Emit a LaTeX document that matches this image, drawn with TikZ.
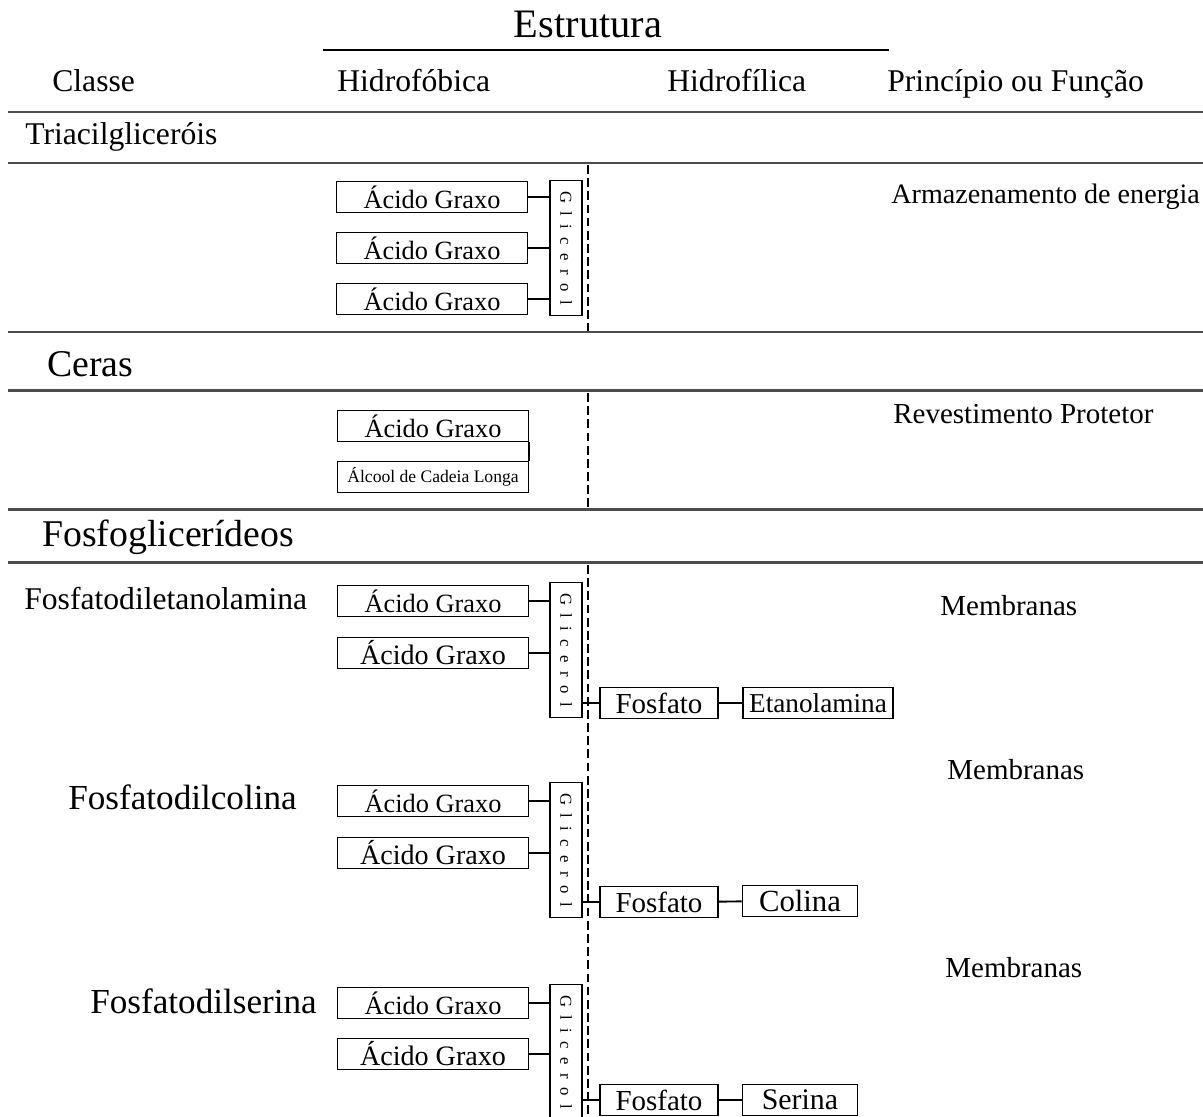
\documentclass[tikz,border=0pt]{standalone}
\usepackage{fontspec}
\setmainfont{Liberation Serif}
\usepackage{graphicx}
\usetikzlibrary{positioning}

\newcommand{\tamanho}[1]{\fontsize{#1}{#1}\selectfont}
\newcommand{\gliceroltxt}{\rotatebox{-90}{G\kern4.8pt l\kern4.8pt i\kern4.8pt c\kern4.8pt e\kern4.8pt r\kern4.8pt o\kern4.8pt l}}

\begin{document}
\begin{tikzpicture}[
    x=0.02cm, y=-0.02cm,
    titulo/.style={inner sep=0pt, font=\tamanho{23}},
    coluna/.style={anchor=base west, inner sep=0pt, font=\tamanho{18}},
    classe/.style={anchor=west, inner sep=0pt, font=\tamanho{18}},
    grupo/.style={anchor=west, inner sep=0pt, font=\tamanho{21.5}},
    funcao/.style={anchor=west, inner sep=0pt, font=\tamanho{16.5}},
    acido/.style={draw, line width=1.1pt, minimum width=3.82cm, minimum height=0.62cm, inner sep=0pt, font=\tamanho{15}},
    glicerol/.style={draw, line width=1.1pt, minimum width=0.64cm, minimum height=2.7cm, inner sep=0pt, font=\tamanho{9.5}},
    polar/.style={draw, line width=1.1pt, minimum height=0.62cm, inner sep=0pt, font=\tamanho{16.5}},
    liga/.style={line width=1.1pt},
    regua/.style={line width=1.7pt, draw=black!70},
    divisa/.style={line width=0.9pt, dash pattern=on 5pt off 2.5pt}
]
\useasboundingbox (0,0) rectangle (1203,1116);

% Cabecalho
\node[titulo] (estrutura) at (588,24) {Estrutura};
\draw[line width=1.7pt] (323,50) -- (889,50);
\node[coluna] (classe) at (52,91) {Classe};
\node[coluna] (hidrofob) at (337,91) {Hidrofóbica};
\node[coluna] (hidrofil) at (667,91) {Hidrofílica};
\node[coluna] (principio) at (887,91) {Princípio ou Função};
\draw[regua] (8,112) -- (1203,112);

% Triacilglicerois
\node[classe] (tag) at (25,137) {Triacilgliceróis};
\draw[regua] (8,163) -- (1203,163);
\draw[divisa] (588,165) -- (588,331);
\node[acido] (tagA) at (432,197) {Ácido Graxo};
\node[acido] (tagB) at (432,248) {Ácido Graxo};
\node[acido] (tagC) at (432,299) {Ácido Graxo};
\node[glicerol] (tagGli) at (566,248) {\gliceroltxt};
\draw[liga] (tagA.east) -- (tagA.east -| tagGli.west);
\draw[liga] (tagB.east) -- (tagB.east -| tagGli.west);
\draw[liga] (tagC.east) -- (tagC.east -| tagGli.west);
\node[funcao, font=\tamanho{16}] (energia) at (891,197) {Armazenamento de energia};
\draw[regua] (8,332) -- (1203,332);

% Ceras
\node[grupo] (ceras) at (47,364) {Ceras};
\draw[regua] (8,390) -- (1203,390);
\draw[divisa] (588,393) -- (588,508);
\node[acido] (cerA) at (433,426) {Ácido Graxo};
\node[acido, font=\tamanho{10}] (cerAlc) at (433,477) {Álcool de Cadeia Longa};
\draw[liga] (cerA.south east) -- (cerAlc.north east);
\node[funcao] (protetor) at (893,414) {Revestimento Protetor};
\draw[regua] (8,509) -- (1203,509);

% Fosfoglicerideos
\node[grupo] (fosfogli) at (42,537) {Fosfoglicerídeos};
\draw[regua] (8,562) -- (1203,562);
\draw[divisa] (588,565) -- (588,1116);

% Fosfatodiletanolamina
\node[classe] (pe) at (24,599) {Fosfatodiletanolamina};
\node[acido] (peA) at (433,601) {Ácido Graxo};
\node[acido, font=\tamanho{16}] (peB) at (433,653) {Ácido Graxo};
\node[glicerol] (peGli) at (566,650) {\gliceroltxt};
\node[polar, minimum width=2.36cm] (peFos) at (659,703) {Fosfato};
\node[polar, minimum width=3.0cm, font=\tamanho{15.5}] (peEta) at (818,703) {Etanolamina};
\draw[liga] (peA.east) -- (peA.east -| peGli.west);
\draw[liga] (peB.east) -- (peB.east -| peGli.west);
\draw[liga] (peFos.west -| peGli.east) -- (peFos.west);
\draw[liga] (peFos) -- (peEta);
\node[funcao] (memb1) at (940,606) {Membranas};

% Fosfatodilcolina
\node[classe, font=\tamanho{20}] (pc) at (68,797) {Fosfatodilcolina};
\node[acido] (pcA) at (433,801) {Ácido Graxo};
\node[acido, font=\tamanho{16}] (pcB) at (433,853) {Ácido Graxo};
\node[glicerol] (pcGli) at (566,850) {\gliceroltxt};
\node[polar, minimum width=2.36cm] (pcFos) at (659,902) {Fosfato};
\node[polar, minimum width=2.3cm, font=\tamanho{17.5}] (pcCol) at (800,901) {Colina};
\draw[liga] (pcA.east) -- (pcA.east -| pcGli.west);
\draw[liga] (pcB.east) -- (pcB.east -| pcGli.west);
\draw[liga] (pcFos.west -| pcGli.east) -- (pcFos.west);
\draw[liga] (pcFos) -- (pcCol);
\node[funcao] (memb2) at (947,770) {Membranas};

% Fosfatodilserina
\node[classe, font=\tamanho{20}] (ps) at (90,1001) {Fosfatodilserina};
\node[acido] (psA) at (433,1003) {Ácido Graxo};
\node[acido, font=\tamanho{16}] (psB) at (433,1054) {Ácido Graxo};
\node[glicerol] (psGli) at (566,1052) {\gliceroltxt};
\node[polar, minimum width=2.36cm] (psFos) at (659,1100) {Fosfato};
\node[polar, minimum width=2.3cm, font=\tamanho{17}] (psSer) at (800,1100) {Serina};
\draw[liga] (psA.east) -- (psA.east -| psGli.west);
\draw[liga] (psB.east) -- (psB.east -| psGli.west);
\draw[liga] (psFos.west -| psGli.east) -- (psFos.west);
\draw[liga] (psFos) -- (psSer);
\node[funcao] (memb3) at (945,968) {Membranas};

\end{tikzpicture}
\end{document}
